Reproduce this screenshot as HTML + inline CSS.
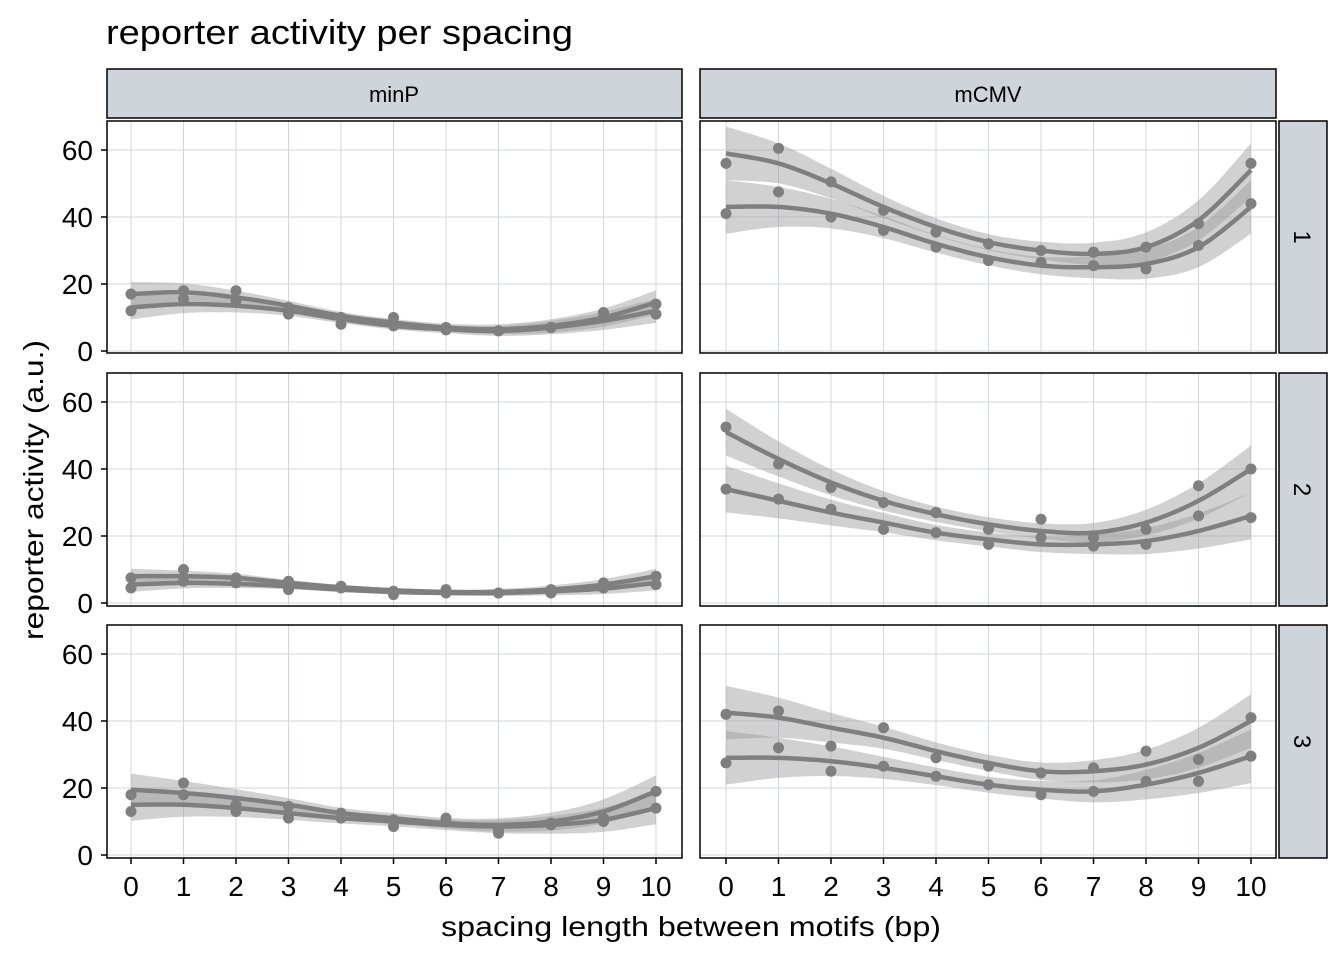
<!DOCTYPE html>
<html><head><meta charset="utf-8"><style>
body{margin:0;background:#fff;}
svg text{font-family:"Liberation Sans",sans-serif;}
</style></head><body>
<svg id="s" width="1344" height="960" xmlns="http://www.w3.org/2000/svg">
<rect width="1344" height="960" fill="#fff"/>
<text x="106" y="44" font-size="34" fill="#000" textLength="467" lengthAdjust="spacingAndGlyphs">reporter activity per spacing</text>
<rect x="107" y="69" width="575" height="49" fill="#cfd3da" stroke="#000" stroke-width="1.5"/>
<rect x="700" y="69" width="576" height="49" fill="#cfd3da" stroke="#000" stroke-width="1.5"/>
<text x="394" y="102" font-size="22" text-anchor="middle">minP</text>
<text x="988" y="102" font-size="22" text-anchor="middle">mCMV</text>
<text transform="translate(43,490) rotate(-90)" font-size="28" text-anchor="middle" textLength="300" lengthAdjust="spacingAndGlyphs">reporter activity (a.u.)</text>
<text x="691" y="936" font-size="28" text-anchor="middle" textLength="500" lengthAdjust="spacingAndGlyphs">spacing length between motifs (bp)</text>
<g id="g"></g>
</svg>
<script>
var g=document.getElementById('g'),h='';
var rows=[[121,353,351],[373,606,603],[625,858,855]];
var cols=[[107,682,131],[700,1276,726]];
var D={
'0-0':[[17,18,18,13,10,10,7,6,7,11.5,14],[12,15.5,15,11,8,7.5,6.3,6,7,10,11],[17,17.5,16,13.5,10.5,8.5,7,6.5,7.5,10,14.5],[13,14,13.5,12,9.5,7.5,6.5,6,7,9,12],1.8],
'0-1':[[56,60.5,50.5,42,35.5,32,30,29.5,31,38,56],[41,47.5,40,36,31,27,26.5,25.5,24.5,31.5,44],[59,56,50,43,37,32.5,30,29,31,39,54],[43,43,41,37,32,28,25.5,25,26,31,43],4],
'1-0':[[7.5,10,7.5,6.5,5,3.5,4,3,4,6,8],[4.5,6.5,6,4,4.5,2.5,3,3,3,4.5,5.5],[8,8,7.5,6,4.7,3.8,3.3,3.3,4,5.5,8],[5.5,6,5.7,5,4,3.3,3,3,3.5,4.3,6],1.1],
'1-1':[[52.5,41.5,34.5,30,27,22,25,19.5,22,35,40],[34,31,28,22,21,17.5,19.5,17,17.5,26,25.5],[51,43,36,30.5,26.5,23.5,21.5,21,24,30.5,40],[34,30.5,27,24,21,19,17.5,17.5,18.5,21.5,26],3.5],
'2-0':[[18,21.5,15,14.5,12.5,10.5,11,7.5,9.5,11,19],[13,18,13,11,11,8.5,10,6.5,9,10,14],[19.5,18.5,17,15,12.5,11,9.5,9,10,13,19],[15,15,14,12.5,11,10,9,8.5,9,10.5,14],2.4],
'2-1':[[42,43,32.5,38,29,26.5,24.5,26,31,28.5,41],[27.5,32,25,26.5,23.5,21,18,19,22,22,29.5],[42.5,41,38,35,31,27.5,25,25,27,32,40],[29,29,28,26,23.5,21,19.5,19,21,24.5,29.5],4]};
function spline(pts){var o=[];for(var i=0;i<pts.length-1;i++){var p0=pts[Math.max(0,i-1)],p1=pts[i],p2=pts[i+1],p3=pts[Math.min(pts.length-1,i+2)];for(var k=0;k<10;k++){var t=k/10,t2=t*t,t3=t2*t;o.push([0.5*(2*p1[0]+(-p0[0]+p2[0])*t+(2*p0[0]-5*p1[0]+4*p2[0]-p3[0])*t2+(-p0[0]+3*p1[0]-3*p2[0]+p3[0])*t3),0.5*(2*p1[1]+(-p0[1]+p2[1])*t+(2*p0[1]-5*p1[1]+4*p2[1]-p3[1])*t2+(-p0[1]+3*p1[1]-3*p2[1]+p3[1])*t3)]);}}o.push(pts[pts.length-1]);return o;}
function P(a){return a.map(function(p){return p[0].toFixed(1)+','+p[1].toFixed(1)}).join(' ');}
for(var r=0;r<3;r++)for(var c=0;c<2;c++){
 var R=rows[r],C=cols[c],x0=C[2],y0=R[2];
 function X(v){return x0+52.5*v;} function Y(v){return y0-3.35*v;}
 h+='<rect x="'+C[0]+'" y="'+R[0]+'" width="'+(C[1]-C[0])+'" height="'+(R[1]-R[0])+'" fill="#fff"/>';
 for(var i=0;i<=10;i++)h+='<line x1="'+X(i)+'" x2="'+X(i)+'" y1="'+R[0]+'" y2="'+R[1]+'" stroke="#d3d6dc" stroke-width="1"/>';
 for(var v=0;v<=60;v+=20)h+='<line x1="'+C[0]+'" x2="'+C[1]+'" y1="'+Y(v)+'" y2="'+Y(v)+'" stroke="#d3d6dc" stroke-width="1"/>';
 var d=D[r+'-'+c],w=d[4];
 [2,3].forEach(function(j){var up=[],lo=[];for(var i=0;i<=10;i++){var q=Math.abs(i-5)/5,e=w*(0.6+1.4*q*q);up.push([X(i),Y(d[j][i]+e)]);lo.push([X(i),Y(d[j][i]-e)]);}
  h+='<polygon points="'+P(spline(up))+' '+P(spline(lo).reverse())+'" fill="#999" fill-opacity="0.45"/>';});
 [2,3].forEach(function(j){var ln=[];for(var i=0;i<=10;i++)ln.push([X(i),Y(d[j][i])]);h+='<polyline points="'+P(spline(ln))+'" fill="none" stroke="#7f7f7f" stroke-width="4.5"/>';});
 [0,1].forEach(function(j){for(var i=0;i<=10;i++)h+='<circle cx="'+X(i)+'" cy="'+Y(d[j][i])+'" r="5.5" fill="#7f7f7f"/>';});
 h+='<rect x="'+C[0]+'" y="'+R[0]+'" width="'+(C[1]-C[0])+'" height="'+(R[1]-R[0])+'" fill="none" stroke="#000" stroke-width="1.5"/>';
 if(c==0)for(var v=0;v<=60;v+=20){h+='<line x1="101" x2="107" y1="'+Y(v)+'" y2="'+Y(v)+'" stroke="#000" stroke-width="1.5"/><text x="93" y="'+(Y(v)+10)+'" font-size="28" text-anchor="end">'+v+'</text>';}
 if(r==2)for(var i=0;i<=10;i++)h+='<line x1="'+X(i)+'" x2="'+X(i)+'" y1="858" y2="864" stroke="#000" stroke-width="1.5"/><text x="'+X(i)+'" y="896" font-size="28" text-anchor="middle">'+i+'</text>';
 if(c==1){h+='<rect x="1279" y="'+R[0]+'" width="48" height="'+(R[1]-R[0])+'" fill="#cfd3da" stroke="#000" stroke-width="1.5"/><text transform="translate(1294,'+((R[0]+R[1])/2)+') rotate(90)" font-size="24" text-anchor="middle">'+(r+1)+'</text>';}
}
g.innerHTML=h;
</script>
</body></html>
